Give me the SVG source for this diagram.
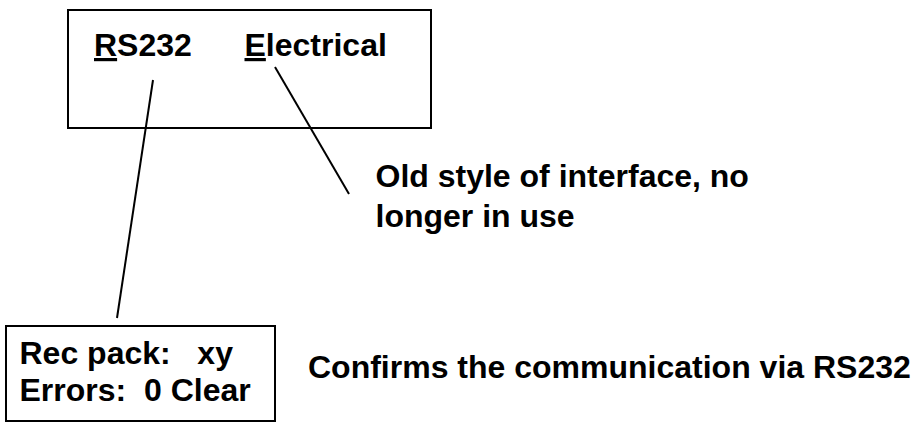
<svg xmlns="http://www.w3.org/2000/svg" width="914" height="424" viewBox="0 0 914 424">
<style>
.box{fill:#fff;stroke:#000;stroke-width:2}
.t{font-family:"Liberation Sans",Arial,sans-serif;font-weight:bold;font-size:32px;fill:#000}
.u{text-decoration:underline}
.c{stroke:#000;stroke-width:2;fill:none}
</style>
<rect width="914" height="424" fill="#fff"/>
<g id="main-box">
<rect class="box" x="68" y="10" width="363" height="118"/>
<text class="t" x="94" y="56"><tspan class="u">R</tspan>S232</text>
<text class="t" x="244.5" y="56"><tspan class="u">E</tspan>lectrical</text>
</g>
<g id="status-box">
<rect class="box" x="6" y="326" width="269" height="95"/>
<text class="t" x="19.5" y="364" xml:space="preserve">Rec pack:   xy</text>
<text class="t" x="19.5" y="401" xml:space="preserve">Errors:  0 Clear</text>
</g>
<g id="note-electrical">
<text class="t" x="375.5" y="187">Old style of interface, no</text>
<text class="t" x="375.5" y="227">longer in use</text>
</g>
<g id="note-rs232">
<text class="t" x="308" y="378">Confirms the communication via RS232</text>
</g>
<g id="connectors">
<line class="c" x1="153" y1="80" x2="117" y2="318"/>
<line class="c" x1="275" y1="67" x2="349" y2="194"/>
</g>
</svg>
